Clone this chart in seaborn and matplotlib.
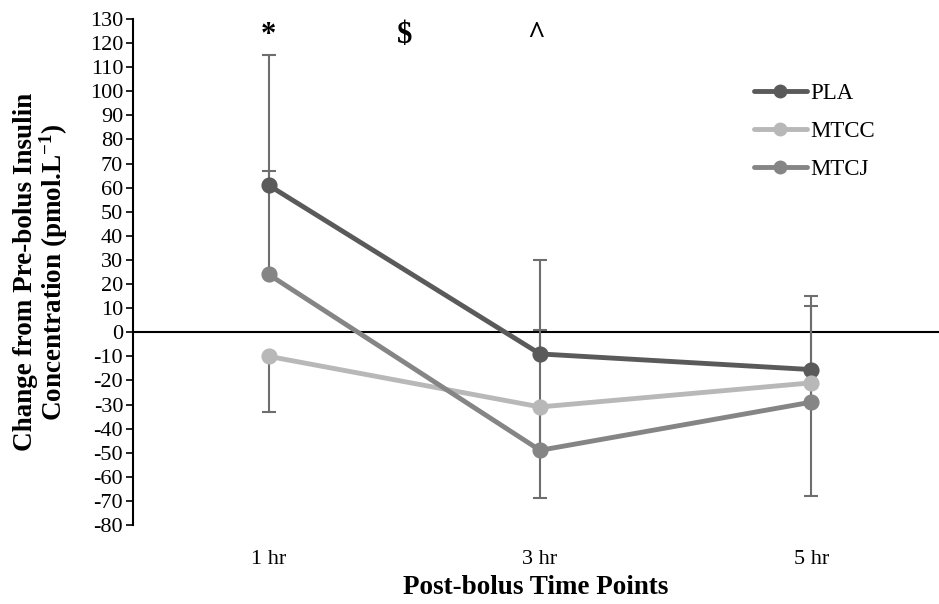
import numpy as np
import pandas as pd
import seaborn as sns
from matplotlib import pyplot as plt
from matplotlib.lines import Line2D

# values
time_points = ['1 hr', '3 hr', '5 hr']
groups = ['PLA', 'MTCC', 'MTCJ']
pla = [61, -9, -15.5]
mtcc = [-10, -31, -21]
mtcj = [24, -49, -29]
# one-sided SD bars (PLA and MTCJ up, MTCC down)
pla_sd = [54, 39, 30.5]
mtcc_sd = [23, 38, 47]
mtcj_sd = [43, 50, 40]
sd_dir = {'PLA': 1, 'MTCC': -1, 'MTCJ': 1}
markers_text = ['*', '$', '^']
marker_x = [0, 0.5, 0.985]

colors = {'PLA': '#5a5a5a', 'MTCC': '#b8b8b8', 'MTCJ': '#858585'}
bar_color = '#6e6e6e'

values = {'PLA': pla, 'MTCC': mtcc, 'MTCJ': mtcj}
sds = {'PLA': pla_sd, 'MTCC': mtcc_sd, 'MTCJ': mtcj_sd}

records = []
for g in groups:
    for t, v in zip(time_points, values[g]):
        records.append([g, t, v])
df = pd.DataFrame(records, columns=['group', 'time', 'value'])

sns.set_theme(style='white')
plt.rcParams['font.family'] = ['Liberation Serif', 'DejaVu Serif']
plt.rcParams['mathtext.fontset'] = 'custom'
plt.rcParams['mathtext.rm'] = 'Liberation Serif'
plt.rcParams['mathtext.bf'] = 'Liberation Serif:bold'
plt.rcParams['axes.unicode_minus'] = False
plt.rcParams['text.color'] = 'black'
plt.rcParams['axes.labelcolor'] = 'black'
plt.rcParams['xtick.color'] = 'black'
plt.rcParams['ytick.color'] = 'black'

fig = plt.figure(figsize=(9.39, 6.04), dpi=100)
ax = fig.add_axes([0.1416, 0.1308, 0.8584, 0.8377])

# error bars first so the markers sit on top
for g in groups:
    s = np.array(sds[g])
    zero = np.zeros_like(s)
    yerr = [zero, s] if sd_dir[g] > 0 else [s, zero]
    ax.errorbar(range(len(time_points)), values[g], yerr=yerr, fmt='none',
                ecolor=bar_color, elinewidth=1.5, capsize=5, capthick=1.5, zorder=2)

sns.pointplot(data=df, x='time', y='value', hue='group', hue_order=groups,
              palette=colors, markers='o', linestyles='-', errorbar=None,
              dodge=False, markersize=9, linewidth=3.5, ax=ax, legend=False, zorder=3)

ax.axhline(0, color='black', lw=1.5, zorder=1)

ax.set_ylim(-80, 130)
ax.set_xlim(-0.5, 2.47)
ax.set_yticks(range(-80, 131, 10))
ax.tick_params(axis='y', direction='out', length=5, width=1.2,
               labelsize=16, pad=2, left=True)
ax.tick_params(axis='x', length=0, labelsize=16, pad=18)
for side in ['top', 'right', 'bottom']:
    ax.spines[side].set_visible(False)
ax.spines['left'].set_color('black')
ax.spines['left'].set_linewidth(1.5)

ax.set_xlabel('Post-bolus Time Points', fontsize=19.5, fontweight='bold', labelpad=4)
ax.set_ylabel('Change from Pre-bolus Insulin\nConcentration (pmol.L$\\mathbf{^{-1}}$)',
              fontsize=19.5, fontweight='bold', labelpad=14, linespacing=1.0)

for m, xm in zip(markers_text, marker_x):
    ax.text(xm, 123, m, ha='center', va='center', fontsize=22, fontweight='bold')

handles = [Line2D([], [], color=colors[g], lw=3.5, marker='o', markersize=9) for g in groups]
ax.legend(handles, groups, loc='upper left', bbox_to_anchor=(0.745, 0.915), frameon=False,
          fontsize=16.5, handlelength=2.3, handletextpad=0.15, labelspacing=0.75)

fig.savefig('out.png', dpi=100)
